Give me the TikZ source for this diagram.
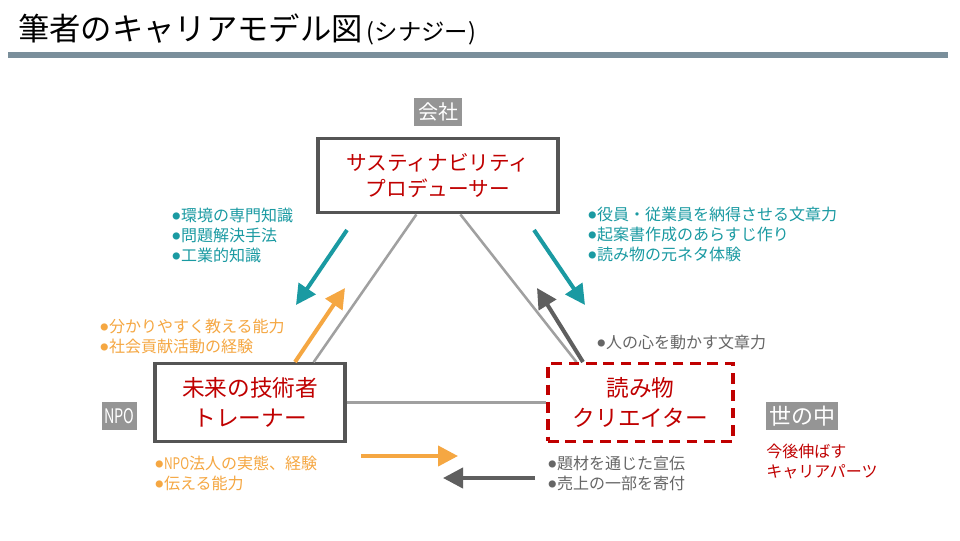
\documentclass[tikz,border=0pt]{standalone}
\usepackage{fontspec}
\setmainfont{Noto Sans CJK JP}
\usetikzlibrary{arrows.meta,calc}
\definecolor{rulec}{HTML}{7A8F9B}
\definecolor{boxc}{HTML}{555555}
\definecolor{redc}{HTML}{C00000}
\definecolor{tealc}{HTML}{1A9AA2}
\definecolor{orangec}{HTML}{F5A742}
\definecolor{grayt}{HTML}{666666}
\definecolor{lineg}{HTML}{A0A0A0}
\definecolor{darkarr}{HTML}{5F5F5F}
\definecolor{tagc}{HTML}{959595}
\newcommand\bul{\raisebox{0.12em}{\scalebox{0.5}{●}}\hspace{0.05em}}
\tikzset{
  rolebox/.style={draw=boxc, line width=2.4pt, fill=white, align=center, text=redc, inner sep=0pt},
  tagbox/.style={fill=tagc, text=white, inner sep=0pt, font=\fontsize{15}{15}\selectfont},
  tri/.style={draw=lineg, line width=1.9pt},
  bigarrow/.style={line width=3pt, -{Triangle[length=15pt,width=15pt]}},
  note/.style={anchor=north west, align=left, inner sep=0pt, font=\fontsize{12}{15}\selectfont},
}
\begin{document}
\begin{tikzpicture}[x=0.75pt,y=-0.75pt]
\useasboundingbox (0,0) rectangle (960,540);
\fill[white] (0,0) rectangle (960,540);
% title
\node[anchor=west, inner sep=0pt] (title) at (18,29) {{\fontsize{23.5}{23.5}\selectfont 筆者のキャリアモデル図}{\fontsize{17.5}{17.5}\selectfont \,(シナジー)}};
\fill[rulec] (8,52) rectangle (948,58);
% tags
\node[tagbox, minimum width=36pt, minimum height=21pt] (kaisha) at (438,112) {会社};
\node[tagbox, minimum width=26pt, minimum height=21pt] (npo) at (119.5,416) {\scalebox{0.72}[1]{NPO}};
\node[tagbox, minimum width=54pt, minimum height=21pt, font=\fontsize{16.5}{16.5}\selectfont] (yono) at (802,416) {世の中};
% boxes
\node[rolebox, minimum width=180pt, minimum height=56pt, font=\fontsize{15.5}{20}\selectfont] (top) at (438,175.5) {サスティナビリティ\\プロデューサー};
\node[rolebox, minimum width=142.5pt, minimum height=58pt, font=\fontsize{17}{22}\selectfont] (left) at (250,402.5) {未来の技術者\\トレーナー};
% triangle lines
\draw[tri] ($(top.south west)+(100,0)$) -- ($(left.north east)+(-33,0)$);
\draw[tri] ($(top.south west)+(144,0)$) -- ($(left.north east)+(230,0)$);
\node[rolebox, draw=redc, dash pattern=on 8pt off 5pt, minimum width=138.75pt, minimum height=58pt, font=\fontsize{17}{22}\selectfont] (right) at (640.5,402.5) {読み物\\クリエイター};
\draw[tri] (left.east) -- (right.west);
% diagonal arrows
\coordinate (tl1) at (347,230); \coordinate (tl2) at (296,305);
\coordinate (tr1) at (534,230); \coordinate (tr2) at (585,305);
\coordinate (ol1) at (295,362); \coordinate (ol2) at (345,288);
\coordinate (gr1) at (583,362); \coordinate (gr2) at (537,288);
\coordinate (oh1) at (361,456); \coordinate (oh2) at (458,456);
\coordinate (gh1) at (535,478); \coordinate (gh2) at (443,478);
\draw[bigarrow, tealc] (tl1) -- (tl2);
\draw[bigarrow, tealc] (tr1) -- (tr2);
\draw[bigarrow, orangec] (ol1) -- (ol2);
\draw[bigarrow, darkarr] (gr1) -- (gr2);
\draw[bigarrow, orangec] (oh1) -- (oh2);
\draw[bigarrow, darkarr] (gh1) -- (gh2);
% notes
\node[note, text=tealc] (n1) at (172,208) {\bul 環境の専門知識\\\bul 問題解決手法\\\bul 工業的知識};
\node[note, text=tealc] (n2) at (588,207) {\bul 役員・従業員を納得させる文章力\\\bul 起案書作成のあらすじ作り\\\bul 読み物の元ネタ体験};
\node[note, text=orangec] (n3) at (100,319) {\bul 分かりやすく教える能力\\\bul 社会貢献活動の経験};
\node[note, text=grayt] (n4) at (597,335) {\bul 人の心を動かす文章力};
\node[note, text=orangec] (n5) at (155,456) {\bul \scalebox{0.75}[1]{NPO}法人の実態、経験\\\bul 伝える能力};
\node[note, text=grayt] (n6) at (548,456) {\bul 題材を通じた宣伝\\\bul 売上の一部を寄付};
\node[note, text=redc, font=\fontsize{12}{14.5}\selectfont] (n7) at (766,444) {今後伸ばす\\キャリアパーツ};
\end{tikzpicture}
\end{document}
